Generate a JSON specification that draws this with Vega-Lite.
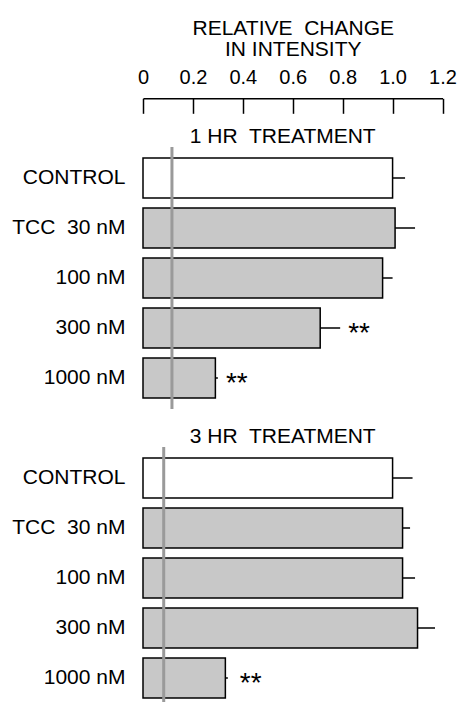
{
  "$schema": "https://vega.github.io/schema/vega-lite/v6.json",
  "background": "white",
  "padding": {"left": 11, "top": 17, "right": 5, "bottom": 0},
  "datasets": {
    "bars": [
      {"panel": "1 HR", "dose": "CONTROL", "group": "control", "value": 1.00, "upper": 1.05, "sig": null},
      {"panel": "1 HR", "dose": "TCC\u00a0 30 nM", "group": "treated", "value": 1.01, "upper": 1.09, "sig": null},
      {"panel": "1 HR", "dose": "100 nM", "group": "treated", "value": 0.96, "upper": 1.00, "sig": null},
      {"panel": "1 HR", "dose": "300 nM", "group": "treated", "value": 0.71, "upper": 0.79, "sig": "**"},
      {"panel": "1 HR", "dose": "1000 nM", "group": "treated", "value": 0.29, "upper": 0.30, "sig": "**"},
      {"panel": "3 HR", "dose": "CONTROL", "group": "control", "value": 1.00, "upper": 1.08, "sig": null},
      {"panel": "3 HR", "dose": "TCC\u00a0 30 nM", "group": "treated", "value": 1.04, "upper": 1.07, "sig": null},
      {"panel": "3 HR", "dose": "100 nM", "group": "treated", "value": 1.04, "upper": 1.09, "sig": null},
      {"panel": "3 HR", "dose": "300 nM", "group": "treated", "value": 1.10, "upper": 1.17, "sig": null},
      {"panel": "3 HR", "dose": "1000 nM", "group": "treated", "value": 0.33, "upper": 0.34, "sig": "**"}
    ],
    "refs": [
      {"panel": "1 HR", "level": 0.116},
      {"panel": "3 HR", "level": 0.083}
    ]
  },
  "bounds": "flush",
  "spacing": 38,
  "resolve": {"scale": {"x": "shared"}},
  "vconcat": [
    {
      "width": 299.5,
      "height": 262,
      "title": {"text": "1 HR\u00a0 TREATMENT", "offset": -130},
      "layer": [
        {
          "data": {"name": "bars"},
          "transform": [{"filter": "datum.panel === '1 HR'"}],
          "mark": {"type": "bar", "stroke": "black", "strokeWidth": 1.5},
          "encoding": {
            "y": {"field": "dose", "type": "nominal", "sort": ["CONTROL", "TCC\u00a0 30 nM", "100 nM", "300 nM", "1000 nM"], "axis": {"title": null}},
            "x": {
              "field": "value", "type": "quantitative",
              "scale": {"domain": [0, 1.2], "nice": false, "zero": true},
              "axis": {
                "orient": "top",
                "values": [0, 0.2, 0.4, 0.6, 0.8, 1, 1.2],
                "labelExpr": "datum.value === 0 ? '0' : format(datum.value, '.1f')",
                "title": ["RELATIVE\u00a0 CHANGE", "IN INTENSITY"],
                "titleFontSize": 21,
                "titleLineHeight": 21,
                "titlePadding": 8,
                "labelFontSize": 20,
                "labelPadding": 26,
                "tickSize": -15,
                "offset": 48.7,
                "labelFlush": false,
                "labelOverlap": false,
                "grid": false
              }
            },
            "fill": {"field": "group", "type": "nominal", "scale": {"domain": ["control", "treated"], "range": ["#ffffff", "#c8c8c8"]}, "legend": null}
          }
        },
        {
          "data": {"name": "bars"},
          "transform": [{"filter": "datum.panel === '1 HR'"}],
          "mark": {"type": "rule", "stroke": "black", "strokeWidth": 1.5},
          "encoding": {
            "y": {"field": "dose", "type": "nominal", "sort": ["CONTROL", "TCC\u00a0 30 nM", "100 nM", "300 nM", "1000 nM"]},
            "x": {"field": "value", "type": "quantitative"},
            "x2": {"field": "upper"}
          }
        },
        {
          "data": {"name": "bars"},
          "transform": [{"filter": "datum.panel === '1 HR' && datum.sig"}],
          "mark": {"type": "text", "align": "left", "baseline": "alphabetic", "dx": 8, "dy": 14, "fontSize": 28, "color": "black"},
          "encoding": {
            "y": {"field": "dose", "type": "nominal", "sort": ["CONTROL", "TCC\u00a0 30 nM", "100 nM", "300 nM", "1000 nM"]},
            "x": {"field": "upper", "type": "quantitative"},
            "text": {"field": "sig"}
          }
        },
        {
          "data": {"name": "refs"},
          "transform": [{"filter": "datum.panel === '1 HR'"}],
          "mark": {"type": "rule", "stroke": "#9a9a9a", "strokeWidth": 3},
          "encoding": {"x": {"field": "level", "type": "quantitative"}}
        }
      ]
    },
    {
      "width": 299.5,
      "height": 262,
      "title": {"text": "3 HR\u00a0 TREATMENT", "offset": -1},
      "layer": [
        {
          "data": {"name": "bars"},
          "transform": [{"filter": "datum.panel === '3 HR'"}],
          "mark": {"type": "bar", "stroke": "black", "strokeWidth": 1.5},
          "encoding": {
            "y": {"field": "dose", "type": "nominal", "sort": ["CONTROL", "TCC\u00a0 30 nM", "100 nM", "300 nM", "1000 nM"], "axis": {"title": null}},
            "x": {"field": "value", "type": "quantitative", "axis": null},
            "fill": {"field": "group", "type": "nominal", "scale": {"domain": ["control", "treated"], "range": ["#ffffff", "#c8c8c8"]}, "legend": null}
          }
        },
        {
          "data": {"name": "bars"},
          "transform": [{"filter": "datum.panel === '3 HR'"}],
          "mark": {"type": "rule", "stroke": "black", "strokeWidth": 1.5},
          "encoding": {
            "y": {"field": "dose", "type": "nominal", "sort": ["CONTROL", "TCC\u00a0 30 nM", "100 nM", "300 nM", "1000 nM"]},
            "x": {"field": "value", "type": "quantitative"},
            "x2": {"field": "upper"}
          }
        },
        {
          "data": {"name": "bars"},
          "transform": [{"filter": "datum.panel === '3 HR' && datum.sig"}],
          "mark": {"type": "text", "align": "left", "baseline": "alphabetic", "dx": 12, "dy": 14, "fontSize": 28, "color": "black"},
          "encoding": {
            "y": {"field": "dose", "type": "nominal", "sort": ["CONTROL", "TCC\u00a0 30 nM", "100 nM", "300 nM", "1000 nM"]},
            "x": {"field": "upper", "type": "quantitative"},
            "text": {"field": "sig"}
          }
        },
        {
          "data": {"name": "refs"},
          "transform": [{"filter": "datum.panel === '3 HR'"}],
          "mark": {"type": "rule", "stroke": "#9a9a9a", "strokeWidth": 3},
          "encoding": {"x": {"field": "level", "type": "quantitative"}}
        }
      ]
    }
  ],
  "config": {
    "font": "Liberation Sans",
    "view": {"stroke": null},
    "scale": {"bandPaddingInner": 0.2, "bandPaddingOuter": 0.22},
    "title": {"fontSize": 21, "fontWeight": "normal", "color": "black", "anchor": "middle", "frame": "group", "baseline": "bottom", "dx": -10},
    "axis": {
      "labelColor": "black",
      "titleColor": "black",
      "titleFontWeight": "normal",
      "domainColor": "black",
      "domainWidth": 1.5,
      "tickColor": "black",
      "tickWidth": 1.5,
      "grid": false
    },
    "axisY": {"domain": false, "ticks": false, "labelFontSize": 21, "labelPadding": 18, "labelLimit": 200}
  }
}
